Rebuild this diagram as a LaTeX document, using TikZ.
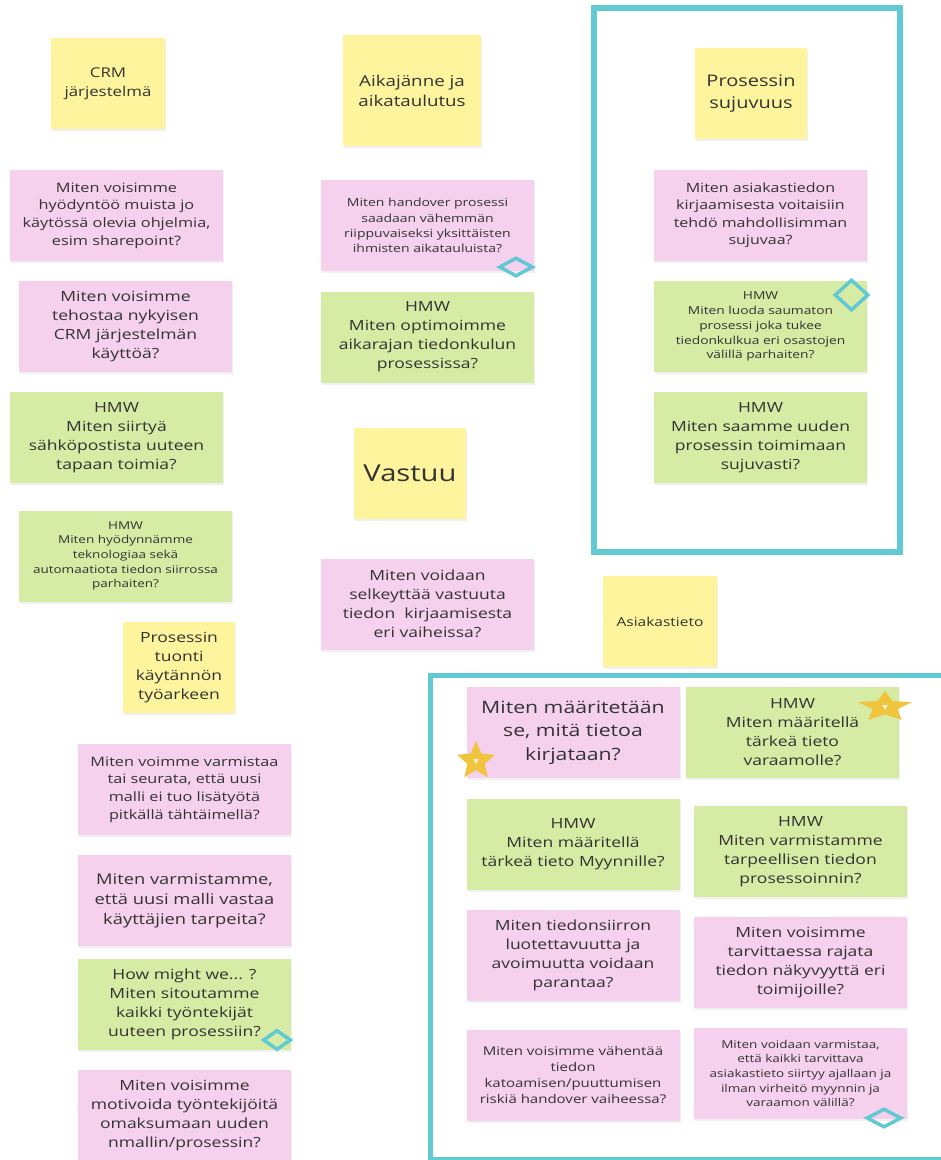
\documentclass[tikz,border=0pt]{standalone}
\usepackage{fontspec}
\setmainfont{Open Sans}[FakeStretch=1.25]
\usetikzlibrary{shapes.geometric,shadows}
\definecolor{notey}{RGB}{253,244,157}
\definecolor{notep}{RGB}{245,209,238}
\definecolor{noteg}{RGB}{214,236,165}
\definecolor{frame}{RGB}{96,201,211}
\definecolor{gold}{RGB}{240,196,60}
\definecolor{ink}{RGB}{51,51,51}
\newcommand\fs[2]{\fontsize{#1}{#2}\selectfont}

\begin{document}
\begin{tikzpicture}[x=0.75pt,y=-0.75pt,
	note/.style={rectangle,inner sep=0,minimum width=159.75pt,minimum height=68.25pt,align=center,text=ink,
		drop shadow={opacity=0.12,shadow xshift=0.8pt,shadow yshift=-1.8pt}},
	pnote/.style={note,fill=notep},
	gnote/.style={note,fill=noteg},
	ynote/.style={note,fill=notey,minimum width=85.5pt},
	frm/.style={draw=frame,line width=4.5pt},
	dia/.style={diamond,draw=frame,line width=2.6pt,inner sep=0},
	st/.style={star,star points=5,star point ratio=2.2,fill=gold,inner sep=0,minimum size=30pt}]
	\useasboundingbox (0,0) rectangle (941,1160);
	\clip (0,0) rectangle (941,1160);
	% frames
	\draw[frm] (593.5,7.5) rectangle (900,551.5);
	\draw[frm,line width=3.75pt] (430,675) rectangle (960,1159);
	% headers
	\node[ynote,font=\fs{10.1}{14}] (crm) at (108,83.5) {CRM\\järjestelmä};
	\node[ynote,minimum width=103.5pt,minimum height=83.25pt,font=\fs{11.25}{15}] (aika) at (412,90.5) {Aikajänne ja\\aikataulutus};
	\node[ynote,minimum width=84pt,font=\fs{12}{16.3}] (suju) at (751,93.5) {Prosessin\\sujuvuus};
	\node[ynote,minimum width=84pt,font=\fs{17.5}{20}] (vastuu) at (410,473.5) {Vastuu};
	\node[ynote,font=\fs{9.3}{13}] (asiakas) at (660,621.5) {Asiakastieto};
	\node[ynote,minimum width=84pt,font=\fs{10.5}{14.2}] (tuonti) at (179,667.5) {Prosessin\\tuonti\\käytännön\\työarkeen};
	% left column
	\node[pnote,font=\fs{9.75}{13.35}] (p1) at (116.5,215.5) {Miten voisimme\\hyödyntöö muista jo\\käytössä olevia ohjelmia,\\esim sharepoint?};
	\node[pnote,font=\fs{10.5}{14.25}] (p2) at (125.5,326.5) {Miten voisimme\\tehostaa nykyisen\\CRM järjestelmän\\käyttöä?};
	\node[gnote,font=\fs{10.5}{14.25}] (g1) at (116.5,437.5) {HMW\\Miten siirtyä\\sähköpostista uuteen\\tapaan toimia?};
	\node[gnote,font=\fs{8.1}{11}] (g2) at (125.5,556) {HMW\\Miten hyödynnämme\\teknologiaa sekä\\automaatiota tiedon siirrossa\\parhaiten?};
	\node[pnote,font=\fs{9.75}{13.3}] (p3) at (184.5,789.5) {Miten voimme varmistaa\\tai seurata, että uusi\\malli ei tuo lisätyötä\\pitkällä tähtäimellä?};
	\node[pnote,font=\fs{11}{15}] (p4) at (184.5,900.5) {Miten varmistamme,\\että uusi malli vastaa\\käyttäjien tarpeita?};
	\node[gnote,font=\fs{10.5}{14.25}] (g3) at (184.5,1004.5) {How might we... ?\\Miten sitoutamme\\kaikki työntekijät\\uuteen prosessiin?};
	\node[pnote,font=\fs{10.5}{14.25}] (p5) at (184.5,1115.5) {Miten voisimme\\motivoida työntekijöitä\\omaksumaan uuden\\nmallin/prosessin?};
	% middle column
	\node[pnote,font=\fs{8.4}{11.4}] (p6) at (427.5,225.5) {Miten handover prosessi\\saadaan vähemmän\\riippuvaiseksi yksittäisten\\ihmisten aikatauluista?};
	\node[gnote,font=\fs{10.5}{14.25}] (g4) at (427.5,337) {HMW\\Miten optimoimme\\aikarajan tiedonkulun\\prosessissa?};
	\node[pnote,font=\fs{10.5}{14.25}] (p7) at (427.5,604) {Miten voidaan\\selkeyttää vastuuta\\tiedon\ \ kirjaamisesta\\eri vaiheissa?};
	% prosessin sujuvuus
	\node[pnote,font=\fs{9.6}{13.1}] (p13) at (760.5,215) {Miten asiakastiedon\\kirjaamisesta voitaisiin\\tehdö mahdollisimman\\sujuvaa?};
	\node[gnote,font=\fs{8.25}{11.2}] (g8) at (760.5,326.5) {HMW\\Miten luoda saumaton\\prosessi joka tukee\\tiedonkulkua eri osastojen\\välillä parhaiten?};
	\node[gnote,font=\fs{10.5}{14.3}] (g9) at (760.5,437.5) {HMW\\Miten saamme uuden\\prosessin toimimaan\\sujuvasti?};
	% asiakastieto
	\node[pnote,font=\fs{12.75}{17.5}] (p8) at (573,732.5) {Miten määritetään\\se, mitä tietoa\\kirjataan?};
	\node[gnote,font=\fs{10.5}{14.25}] (g5) at (792.5,732.5) {HMW\\Miten määritellä\\tärkeä tieto\\varaamolle?};
	\node[gnote,font=\fs{10.5}{14.25}] (g6) at (573,844) {HMW\\Miten määritellä\\tärkeä tieto Myynnille?};
	\node[gnote,font=\fs{10.5}{14.25}] (g7) at (800.5,851.5) {HMW\\Miten varmistamme\\tarpeellisen tiedon\\prosessoinnin?};
	\node[pnote,font=\fs{10.5}{14.25}] (p9) at (573,955.5) {Miten tiedonsiirron\\luotettavuutta ja\\avoimuutta voidaan\\parantaa?};
	\node[pnote,font=\fs{10.5}{14.25}] (p10) at (800.5,962.5) {Miten voisimme\\tarvittaessa rajata\\tiedon näkyvyyttä eri\\toimijoille?};
	\node[pnote,font=\fs{9}{12.2}] (p11) at (573,1075) {Miten voisimme vähentää\\tiedon\\katoamisen/puuttumisen\\riskiä handover vaiheessa?};
	\node[pnote,font=\fs{8.1}{11}] (p12) at (800.5,1073.5) {Miten voidaan varmistaa,\\että kaikki tarvittava\\asiakastieto siirtyy ajallaan ja\\ilman virheitö myynnin ja\\varaamon välillä?};
	% marks
	\foreach \n/\p/\w/\h in {d1/{516,267}/25.5/14.25,d2/{851.5,295}/25.5/23.25,d3/{277,1040}/21/15,d4/{884,1118}/26.25/14.25}
		\node[dia,minimum width=\w pt,minimum height=\h pt] (\n) at (\p) {};
	\node[st] (s1) at (476,761) {};
	\node[st,xscale=1.42,yscale=0.8,transform shape] (s2) at (885,707) {};
	\foreach \s in {s1,s2} \fill[gold!25] (\s.center) ++(-3,-2) -- ++(6,0) -- ++(-3,5) -- cycle;
\end{tikzpicture}
\end{document}
